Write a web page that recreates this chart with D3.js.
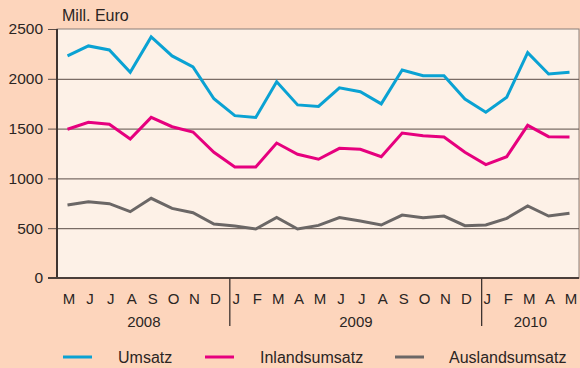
<!DOCTYPE html>
<html>
<head>
<meta charset="utf-8">
<script src="https://cdn.jsdelivr.net/npm/d3@7"></script>
<style>
  html, body { margin: 0; padding: 0; background: #fdd5bc; }
  svg { display: block; font-family: "Liberation Sans", Arial, sans-serif; }
</style>
</head>
<body>
<svg id="chart" width="580" height="368"></svg>
<script>
// Monthly turnover, May 2008 – May 2010 (Mill. Euro)
const months = ["M","J","J","A","S","O","N","D",
                "J","F","M","A","M","J","J","A","S","O","N","D",
                "J","F","M","A","M"];
const years = [
  { label: "2008", from: 0, to: 7 },
  { label: "2009", from: 8, to: 19 },
  { label: "2010", from: 20, to: 24 }
];
const umsatz = [2230, 2330, 2290, 2065, 2420, 2230, 2120, 1800,
                1630, 1612, 1970, 1738, 1722, 1910, 1870, 1748, 2088, 2030, 2030, 1797,
                1665, 1815, 2262, 2048, 2065];
const inland = [1493, 1563, 1543, 1396, 1613, 1519, 1466, 1262,
                1114, 1114, 1355, 1242, 1192, 1302, 1292, 1218, 1456, 1429, 1416, 1262,
                1138, 1218, 1533, 1419, 1416];
const ausland = [733, 766, 746, 666, 800, 699, 656, 542,
                 522, 492, 609, 492, 528, 606, 572, 532, 632, 606, 622, 525,
                 532, 599, 723, 622, 649];
const yTicks = [0, 500, 1000, 1500, 2000, 2500];
const series = [
  { name: "Umsatz", values: umsatz, color: "#0aa2d3" },
  { name: "Inlandsumsatz", values: inland, color: "#e6007e" },
  { name: "Auslandsumsatz", values: ausland, color: "#6b6766" }
];

const svg = d3.select("#chart");
const plot = { left: 57, right: 579, top: 29, bottom: 278 };

const x = d3.scaleLinear().domain([0, months.length - 1]).range([67.5, 569.5]);
const y = d3.scaleLinear().domain([0, 2500]).range([plot.bottom, plot.top]);

// plot panel
svg.append("rect")
  .attr("x", plot.left).attr("y", plot.top)
  .attr("width", plot.right - plot.left).attr("height", plot.bottom - plot.top)
  .attr("fill", "#fdf1e7")
  .attr("stroke", "#8a7e78").attr("stroke-width", 1);

// horizontal grid + y axis
const yAxis = d3.axisLeft(y).tickValues(yTicks).tickFormat(d3.format("d"))
  .tickSize(9).tickPadding(5);
const gy = svg.append("g").attr("transform", `translate(${plot.left},0)`).call(yAxis);
gy.attr("font-family", "Liberation Sans, Arial, sans-serif");
gy.select(".domain").remove();
gy.selectAll(".tick line").attr("stroke", "#5b4d47");
gy.selectAll(".tick text")
  .attr("font-size", 15.5).attr("fill", "#2b2523");

svg.append("g")
  .selectAll("line")
  .data(yTicks.filter(d => d > 0 && d < 2500))
  .join("line")
  .attr("x1", plot.left).attr("x2", plot.right)
  .attr("y1", d => y(d) + 0.5).attr("y2", d => y(d) + 0.5)
  .attr("stroke", "#5b4d47").attr("stroke-width", 1);

// axis frame lines
svg.append("line")
  .attr("x1", plot.left).attr("x2", plot.left)
  .attr("y1", plot.top).attr("y2", plot.bottom + 1)
  .attr("stroke", "#3e3430").attr("stroke-width", 2);
svg.append("line")
  .attr("x1", plot.left - 9).attr("x2", plot.right)
  .attr("y1", plot.bottom).attr("y2", plot.bottom)
  .attr("stroke", "#4a3f3a").attr("stroke-width", 2);

// month labels
svg.append("g")
  .selectAll("text")
  .data(months)
  .join("text")
  .attr("x", (d, i) => x(i) + 1.5)
  .attr("y", 304)
  .attr("text-anchor", "middle")
  .attr("font-size", 15)
  .attr("fill", "#2b2523")
  .text(d => d);

// year separators and labels
const sepIdx = [years[0].to + 0.76, years[1].to + 0.8];
svg.append("g")
  .selectAll("line")
  .data(sepIdx)
  .join("line")
  .attr("x1", d => x(d)).attr("x2", d => x(d))
  .attr("y1", plot.bottom).attr("y2", 326)
  .attr("stroke", "#3e3430").attr("stroke-width", 1.3);

svg.append("g")
  .selectAll("text")
  .data(years)
  .join("text")
  .attr("x", d => {
    const a = d.from === 0 ? x(0) - 10 : x(d.from - 0.2);
    const b = d.to === months.length - 1 ? plot.right : x(d.to + 0.78);
    return (a + b) / 2;
  })
  .attr("y", 327)
  .attr("text-anchor", "middle")
  .attr("font-size", 15)
  .attr("fill", "#2b2523")
  .text(d => d.label);

// unit label
svg.append("text")
  .attr("x", 62).attr("y", 21)
  .attr("font-size", 16).attr("fill", "#2b2523")
  .text("Mill. Euro");

// data lines
const line = d3.line().x((d, i) => x(i)).y(d => y(d));
svg.append("g")
  .selectAll("path")
  .data(series)
  .join("path")
  .attr("d", s => line(s.values))
  .attr("fill", "none")
  .attr("stroke", s => s.color)
  .attr("stroke-width", 3)
  .attr("stroke-linejoin", "miter");

// legend
const legendX = [63, 205, 395];
const lg = svg.append("g")
  .selectAll("g")
  .data(series)
  .join("g")
  .attr("transform", (d, i) => `translate(${legendX[i]},357)`);
lg.append("line")
  .attr("x1", 0).attr("x2", 29)
  .attr("stroke", d => d.color).attr("stroke-width", 3);
lg.append("text")
  .attr("x", (d, i) => [55, 55, 54][i])
  .attr("y", 6)
  .attr("font-size", 16)
  .attr("fill", "#2b2523")
  .text(d => d.name);
</script>
</body>
</html>
